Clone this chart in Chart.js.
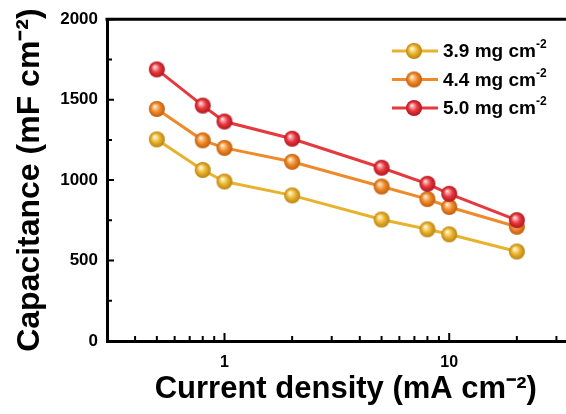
<!DOCTYPE html>
<html>
<head>
<meta charset="utf-8">
<script src="https://cdn.jsdelivr.net/npm/chart.js@4/dist/chart.umd.min.js"></script>
<style>
  html, body { margin: 0; padding: 0; background: #fff; }
  #wrap { width: 566px; height: 414px; overflow: hidden; position: relative; }
</style>
</head>
<body>
<div id="wrap"><canvas id="capChart" width="600" height="414"></canvas></div>
<script>
// data
const currentDensity = [0.5, 0.8, 1, 2, 5, 8, 10, 20];
const cap39 = [1253, 1063, 991, 905, 755, 694, 663, 556];
const cap44 = [1442, 1247, 1200, 1114, 960, 882, 833, 710];
const cap50 = [1688, 1463, 1364, 1257, 1077, 977, 915, 751];
const seriesLabels = ['3.9 mg cm', '4.4 mg cm', '5.0 mg cm'];
const xTickValues = [0.3,0.4,0.5,0.6,0.7,0.8,0.9,1,2,3,4,5,6,7,8,9,10,20,30,40];
const xTickLabels = [1, 10];

const FONT = "'Liberation Sans', Arial, sans-serif";
const colors = [
  { line: '#E8B22E', light: '#FBE9A8', base: '#EAB22C', dark: '#B98210' },
  { line: '#EF8A2B', light: '#FCD3A6', base: '#EF8A28', dark: '#BE5C0C' },
  { line: '#E6383F', light: '#FBB2B4', base: '#E8383F', dark: '#B0141C' }
];

function makeBall(c, r){
  const cv = document.createElement('canvas');
  const s = Math.ceil(r*2) + 2;
  cv.width = s; cv.height = s;
  const g = cv.getContext('2d');
  const cx = s/2, cy = s/2;
  const grad = g.createRadialGradient(cx - r*0.3, cy - r*0.35, 0, cx, cy, r);
  grad.addColorStop(0, '#ffffff');
  grad.addColorStop(0.18, c.light);
  grad.addColorStop(0.55, c.base);
  grad.addColorStop(1, c.dark);
  g.fillStyle = grad;
  g.beginPath(); g.arc(cx, cy, r, 0, Math.PI*2); g.fill();
  return cv;
}
const balls = colors.map(c => makeBall(c, 8));

function toPoints(ys){ return currentDensity.map((x,i)=>({ x: x, y: ys[i] })); }

// inward ticks, top border and legend
const framePlugin = {
  id: 'frame',
  afterDraw(chart){
    const ctx = chart.ctx;
    const a = chart.chartArea;
    const xs = chart.scales.x, ys = chart.scales.y;
    ctx.save();
    ctx.strokeStyle = '#000';
    ctx.lineWidth = 3;
    ctx.beginPath();
    ctx.moveTo(a.left - 1.5, a.top); ctx.lineTo(a.right, a.top);
    ctx.moveTo(a.right, a.top); ctx.lineTo(a.right, a.bottom);
    ctx.stroke();

    ctx.lineWidth = 2;
    ctx.beginPath();
    ys.ticks.forEach(t=>{
      const y = ys.getPixelForValue(t.value);
      const len = t.value % 500 === 0 ? 7 : 5;
      ctx.moveTo(a.left, y); ctx.lineTo(a.left + len, y);
    });
    xs.ticks.forEach(t=>{
      const x = xs.getPixelForValue(t.value);
      const len = xTickLabels.includes(t.value) ? 8 : 5;
      ctx.moveTo(x, a.bottom); ctx.lineTo(x, a.bottom - len);
    });
    ctx.stroke();

    // legend
    chart.data.datasets.forEach((ds, i)=>{
      const y = 51 + i*28.5;
      ctx.strokeStyle = colors[i].line;
      ctx.lineWidth = 3;
      ctx.beginPath(); ctx.moveTo(392, y); ctx.lineTo(438, y); ctx.stroke();
      const b = balls[i];
      ctx.drawImage(b, 414 - b.width/2, y - b.height/2);
      ctx.fillStyle = '#000';
      ctx.textBaseline = 'middle';
      ctx.textAlign = 'left';
      ctx.font = 'bold 19px ' + FONT;
      ctx.fillText(ds.label, 443, y + 1);
      const w = ctx.measureText(ds.label).width;
      ctx.font = 'bold 12px ' + FONT;
      ctx.fillText('-2', w + 443, y - 6);
    });
    ctx.restore();
  }
};

const ctx = document.getElementById('capChart').getContext('2d');
const chart = new Chart(ctx, {
  type: 'line',
  data: {
    datasets: [cap39, cap44, cap50].map((d, i)=>({
      label: seriesLabels[i],
      data: toPoints(d),
      borderColor: colors[i].line,
      borderWidth: 3,
      pointStyle: balls[i],
      pointRadius: 8,
      order: 3 - i,
      fill: false,
      tension: 0
    }))
  },
  options: {
    responsive: false,
    animation: false,
    events: [],
    layout: { padding: { top: 16, right: 15.5, left: 0, bottom: 0 } },
    plugins: { legend: { display: false }, tooltip: { enabled: false } },
    scales: {
      x: {
        type: 'logarithmic',
        min: 0.3, max: 40,
        afterBuildTicks: s => { s.ticks = xTickValues.map(v=>({ value: v })); },
        afterFit: s => { s.height = 73; },
        grid: { display: false, drawTicks: false },
        border: { display: true, color: '#000', width: 3 },
        ticks: {
          autoSkip: false, maxRotation: 0, padding: 12,
          color: '#000', font: { family: FONT, size: 16, weight: 'bold' },
          callback: v => xTickLabels.includes(v) ? String(v) : ''
        },
        title: {
          display: true, text: 'Current density (mA cm\u207B\u00B2)',
          color: '#000', font: { family: FONT, size: 31, weight: 'bold' },
          padding: { top: 0, bottom: 6 }
        }
      },
      y: {
        min: 0, max: 2000,
        afterFit: s => { s.width = 107; },
        grid: { display: false, drawTicks: false },
        border: { display: true, color: '#000', width: 3 },
        ticks: {
          stepSize: 250, padding: 9,
          color: '#000', font: { family: FONT, size: 17, weight: 'bold' },
          callback: v => v % 500 === 0 ? String(v) : ''
        },
        title: {
          display: true, text: 'Capacitance (mF cm\u207B\u00B2)',
          color: '#000', font: { family: FONT, size: 32, weight: 'bold' },
          padding: { top: 11, bottom: 0 }
        }
      }
    }
  },
  plugins: [framePlugin]
});
</script>
</body>
</html>
